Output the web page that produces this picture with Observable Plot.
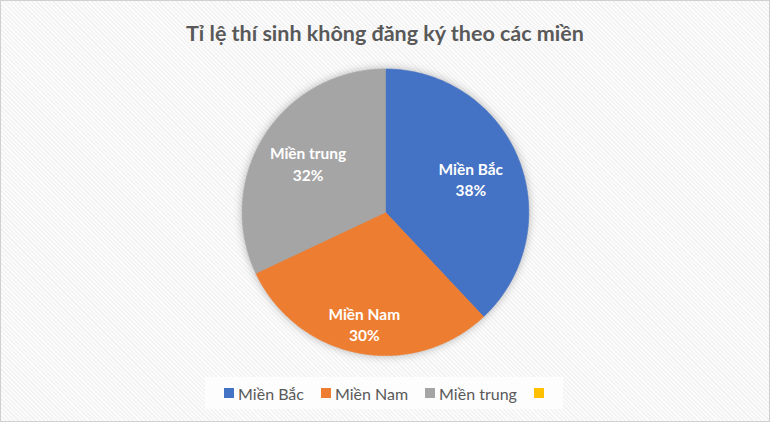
<!DOCTYPE html>
<html>
<head>
<meta charset="utf-8">
<script src="https://cdn.jsdelivr.net/npm/d3@7"></script>
<script src="https://cdn.jsdelivr.net/npm/@observablehq/plot@0.6"></script>
<style>
  html, body { margin: 0; padding: 0; background: #fff; }
  #chart {
    position: relative; width: 768px; height: 420px; overflow: hidden;
    border: 1px solid #d0d0d0;
    background: repeating-linear-gradient(45deg, #f3f3f3 0px, #f3f3f3 1.5px, #fcfcfc 1.5px, #fcfcfc 3px);
    font-family: Lato, "Open Sans", sans-serif;
  }
  #title {
    position: absolute; left: 0; top: 18px; width: 100%; text-align: center;
    font-weight: bold; font-size: 21.5px; color: #595959; line-height: 28px;
  }
  #pie { position: absolute; left: -1px; top: 59px; }
  #pie svg g[aria-label="line"] { filter: drop-shadow(0 0 4px rgba(0,0,0,0.28)); }
  #legend {
    position: absolute; left: 204px; top: 376px; width: 358px; height: 32px;
    background: rgba(255,255,255,0.75);
    display: flex; align-items: center; justify-content: center; gap: 17px;
    font-size: 16px; color: #595959;
  }
  .item { display: flex; align-items: center; gap: 4px; }
  .sw { width: 10px; height: 10px; display: inline-block; }
</style>
</head>
<body>
<div id="chart">
  <div id="title">Tỉ lệ thí sinh không đăng ký theo các miền</div>
  <div id="pie"></div>
  <div id="legend"></div>
</div>
<script>
const categories = ["Miền Bắc", "Miền Nam", "Miền trung"];
const values = [38, 30, 32];
const colors = ["#4472C4", "#ED7D31", "#A5A5A5"];
const legendLabels = ["Miền Bắc", "Miền Nam", "Miền trung", ""];
const legendColors = ["#4472C4", "#ED7D31", "#A5A5A5", "#FFC000"];

const rows = categories.map((name, i) => ({name, value: values[i]}));
const total = d3.sum(values);
const arcs = d3.pie().sort(null).value(d => d.value)(rows);

// polygon points of each slice, in unit-circle coordinates
const pts = [];
for (const a of arcs) {
  pts.push({name: a.data.name, x: 0, y: 0});
  const n = Math.max(2, Math.ceil((a.endAngle - a.startAngle) / (Math.PI / 180)));
  for (let k = 0; k <= n; k++) {
    const t = a.startAngle + (a.endAngle - a.startAngle) * k / n;
    pts.push({name: a.data.name, x: Math.sin(t), y: Math.cos(t)});
  }
  pts.push({name: a.data.name, x: 0, y: 0});
}

const labelRadius = {"Miền Bắc": 0.64, "Miền Nam": 0.79, "Miền trung": 0.64};
const labels = arcs.map(a => {
  const m = (a.startAngle + a.endAngle) / 2;
  const r = labelRadius[a.data.name];
  return {
    x: r * Math.sin(m), y: r * Math.cos(m),
    text: a.data.name + "\n" + Math.round(a.data.value / total * 100) + "%"
  };
});

const R = 143.5;
const W = 770, H = 304;
const cx = 385.5, cy = 152;
const chart = Plot.plot({
  width: W, height: H, margin: 0,
  style: {background: "transparent", overflow: "visible"},
  x: {domain: [-cx / R, (W - cx) / R], axis: null},
  y: {domain: [-(H - cy) / R, cy / R], axis: null},
  color: {domain: categories, range: colors},
  marks: [
    Plot.line(pts, {x: "x", y: "y", z: "name", fill: "name", stroke: "name", strokeWidth: 0.6}),
    Plot.text(labels, {x: "x", y: "y", text: "text", fill: "white", fontWeight: "bold",
      fontSize: 15.5, lineHeight: 1.4, fontFamily: "Lato, 'Open Sans', sans-serif"})
  ]
});
document.getElementById("pie").appendChild(chart);

const legend = d3.select("#legend");
legendLabels.forEach((lab, i) => {
  const it = legend.append("div").attr("class", "item");
  it.append("span").attr("class", "sw").style("background", legendColors[i]);
  if (lab) it.append("span").text(lab);
});
</script>
</body>
</html>
